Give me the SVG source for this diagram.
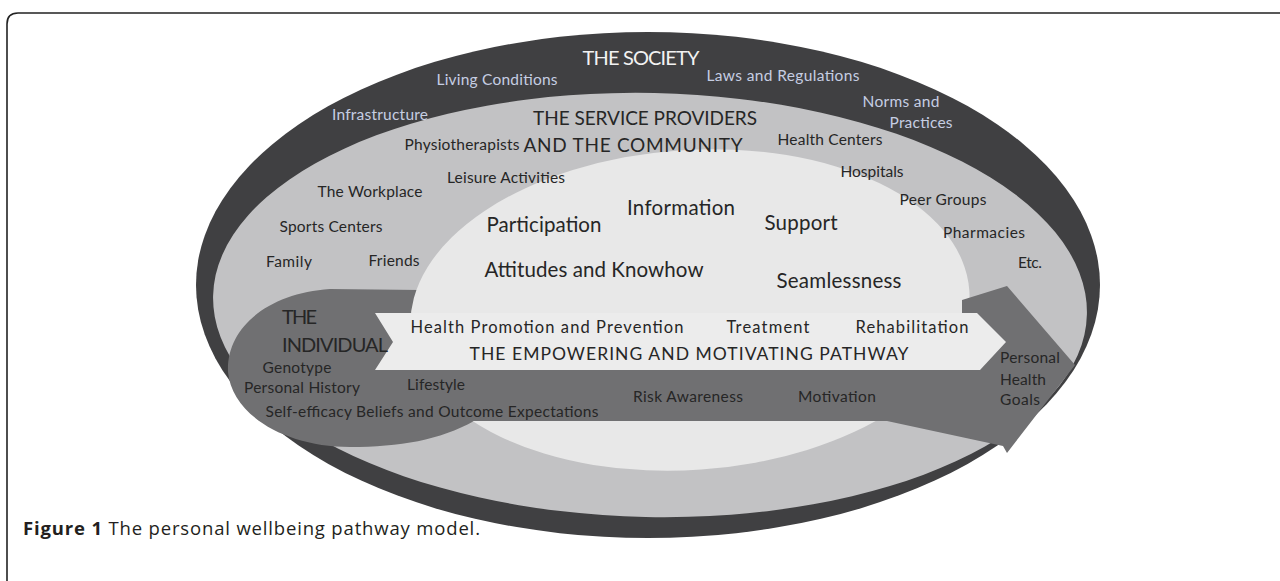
<svg xmlns="http://www.w3.org/2000/svg" width="1280" height="581" viewBox="0 0 1280 581">
<style>
  .t { font-family: Lato, "Open Sans", "Liberation Sans", sans-serif; fill: #262626; text-anchor: middle; }
  .s { font-size: 15.5px; }
  .m { font-size: 16.5px; }
  .b { font-size: 20.5px; }
  .soc { fill: #c6cee2; }
  .cap { font-family: "Open Sans", "Noto Sans", "Liberation Sans", sans-serif; font-size: 18.5px; fill: #231f20; }
</style>
<rect width="1280" height="581" fill="#ffffff"/>
<path d="M 7 581 V 24 Q 7 13 18 13 H 1280" fill="none" stroke="#222222" stroke-width="1.6"/>

<g id="society">
  <ellipse cx="648" cy="285" rx="452" ry="253" fill="#404042"/>
</g>
<g id="service-providers">
  <ellipse cx="650" cy="305" rx="437" ry="212" transform="rotate(1.2 650 305)" fill="#c2c2c4"/>
</g>
<g id="individual">
  <path d="M 474 421 C 440 440 400 447 350 447 C 285 447 232 415 228 372 C 226 328 268 293 330 289 L 420 290 L 420 421 Z" fill="#707072"/>
</g>
<g id="core">
  <ellipse cx="690" cy="310" rx="280" ry="160" transform="rotate(-4 690 310)" fill="#e8e8e8"/>
</g>
<g id="connectors">
  <polygon id="motivating-arrow" points="400,313 962,313 962,300 1007,286 1075,365 1007,453 1003,446 887,421 400,421" fill="#707072"/>
  <polygon id="empowering-pathway" points="375,313 977,313 1006,342 980,370 375,370 393,342" fill="#ececec"/>
</g>

<g id="society-labels">
  <text class="t" x="641" y="65" font-size="20" style="fill:#f2f2f2" textLength="117">THE SOCIETY</text>
  <text class="t s soc" x="497" y="85" textLength="121">Living Conditions</text>
  <text class="t s soc" x="783" y="81" textLength="153">Laws and Regulations</text>
  <text class="t s soc" x="901" y="107" textLength="77">Norms and</text>
  <text class="t s soc" x="921" y="128" textLength="63">Practices</text>
  <text class="t s soc" x="380" y="120" textLength="96">Infrastructure</text>
</g>
<g id="service-labels">
  <text class="t" x="645" y="125" font-size="19" textLength="224">THE SERVICE PROVIDERS</text>
  <text class="t" x="633" y="152" font-size="19" textLength="219">AND THE COMMUNITY</text>
  <text class="t s" x="462" y="150" textLength="115">Physiotherapists</text>
  <text class="t s" x="830" y="145" textLength="105">Health Centers</text>
  <text class="t s" x="872" y="177" textLength="63">Hospitals</text>
  <text class="t s" x="506" y="183" textLength="118">Leisure Activities</text>
  <text class="t s" x="370" y="197" textLength="105">The Workplace</text>
  <text class="t s" x="331" y="232" textLength="103">Sports Centers</text>
  <text class="t s" x="289" y="267" textLength="46">Family</text>
  <text class="t s" x="394" y="266" textLength="51">Friends</text>
  <text class="t s" x="943" y="205" textLength="87">Peer Groups</text>
  <text class="t s" x="984" y="238" textLength="82">Pharmacies</text>
  <text class="t s" x="1030" y="268" textLength="24">Etc.</text>
</g>
<g id="core-labels">
  <text class="t b" x="544" y="232" textLength="115">Participation</text>
  <text class="t b" x="681" y="215" textLength="108">Information</text>
  <text class="t b" x="801" y="230" textLength="73">Support</text>
  <text class="t b" x="594" y="277" textLength="219">Attitudes and Knowhow</text>
  <text class="t b" x="839" y="288" textLength="125">Seamlessness</text>
</g>
<g id="pathway-labels">
  <text class="t m" x="547" y="333" textLength="273">Health Promotion and Prevention</text>
  <text class="t m" x="768" y="333" textLength="83">Treatment</text>
  <text class="t m" x="912" y="333" textLength="113">Rehabilitation</text>
  <text class="t" x="689" y="360" font-size="17.5" textLength="439">THE EMPOWERING AND MOTIVATING PATHWAY</text>
  <text class="t s" x="688" y="402" textLength="110">Risk Awareness</text>
  <text class="t s" x="837" y="402" textLength="78">Motivation</text>
</g>
<g id="individual-labels">
  <text class="t" x="282" y="324" font-size="20" style="text-anchor:start" textLength="35">THE</text>
  <text class="t" x="282" y="352" font-size="20" style="text-anchor:start" textLength="106">INDIVIDUAL</text>
  <text class="t s" x="297" y="373" textLength="69">Genotype</text>
  <text class="t s" x="302" y="393" textLength="116">Personal History</text>
  <text class="t s" x="436" y="390" textLength="58">Lifestyle</text>
  <text class="t s" x="432" y="417" textLength="333">Self-efficacy Beliefs and Outcome Expectations</text>
</g>
<g id="goals">
  <text class="t s" x="1000" y="363" style="text-anchor:start" textLength="60">Personal</text>
  <text class="t s" x="1000" y="385" style="text-anchor:start" textLength="46">Health</text>
  <text class="t s" x="1000" y="405" style="text-anchor:start" textLength="40">Goals</text>
</g>
<g id="caption">
  <text class="cap" x="23" y="535" textLength="457"><tspan font-weight="bold">Figure 1</tspan> The personal wellbeing pathway model.</text>
</g>
</svg>
